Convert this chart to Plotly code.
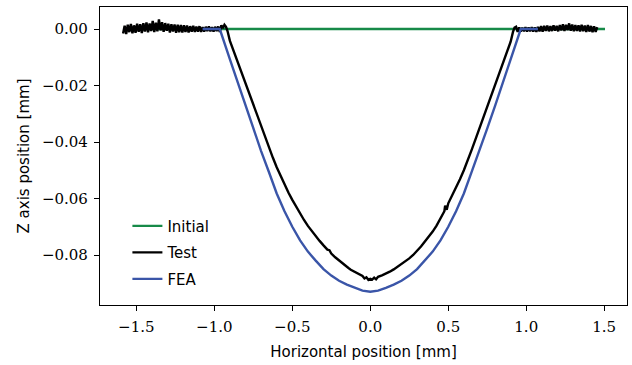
import plotly.graph_objects as go

# ---------------- data (mm) ----------------
initial_x = [-1.585, 1.505]
initial_y = [0.0, 0.0]

# Test profile: left flat (noisy) part
test_left_x = [-1.585, -1.575, -1.565, -1.555, -1.545, -1.535, -1.525, -1.515, -1.505, -1.495,
               -1.485, -1.475, -1.465, -1.455, -1.445, -1.435, -1.425, -1.415, -1.405, -1.395,
               -1.385, -1.375, -1.365, -1.355, -1.345, -1.335, -1.325, -1.315, -1.305, -1.295,
               -1.285, -1.275, -1.265, -1.255, -1.245, -1.235, -1.225, -1.215, -1.205, -1.195,
               -1.185, -1.175, -1.165, -1.155, -1.145, -1.135, -1.125, -1.115, -1.105, -1.095,
               -1.085, -1.075, -1.065, -1.055, -1.045, -1.035, -1.025, -1.015, -1.005, -0.995,
               -0.985, -0.975, -0.965, -0.955, -0.945, -0.935]
test_left_y = [-0.0016, 0.0012, -0.0018, 0.0015, -0.0011, 0.0018, -0.0015, 0.0013, -0.0013, 0.0019,
               -0.0010, 0.0017, -0.0014, 0.0021, -0.0009, 0.0023, -0.0012, 0.0020, -0.0007, 0.0029,
               -0.0011, 0.0022, -0.0008, 0.0034, -0.0005, 0.0024, -0.0010, 0.0021, -0.0006, 0.0019,
               -0.0012, 0.0017, -0.0009, 0.0016, -0.0013, 0.0015, -0.0011, 0.0014, -0.0012, 0.0013,
               -0.0010, 0.0012, -0.0012, 0.0010, -0.0009, 0.0011, -0.0010, 0.0009, -0.0009, 0.0010,
               -0.0010, 0.0007, -0.0009, 0.0008, -0.0007, 0.0009, -0.0008, 0.0007, -0.0009, 0.0008,
               -0.0007, 0.0009, -0.0010, 0.0013, 0.0003, 0.0015]

# Test profile: indentation
test_mid_x = [-0.925, -0.915, -0.900, -0.875, -0.850, -0.825, -0.800, -0.775, -0.750, -0.725,
              -0.700, -0.675, -0.650, -0.625, -0.600, -0.575, -0.550, -0.525, -0.500, -0.475,
              -0.450, -0.425, -0.400, -0.375, -0.350, -0.325, -0.300, -0.275, -0.262, -0.250,
              -0.225, -0.200, -0.175, -0.150, -0.140, -0.125, -0.100, -0.075, -0.050, -0.037,
              -0.025, -0.012, 0.000, 0.012, 0.025, 0.037, 0.050, 0.075, 0.100, 0.125,
              0.150, 0.175, 0.200, 0.225, 0.250, 0.275, 0.300, 0.325, 0.350, 0.375,
              0.400, 0.425, 0.450, 0.475, 0.480, 0.490, 0.500, 0.525, 0.550, 0.575,
              0.600, 0.625, 0.650, 0.675, 0.700, 0.725, 0.750, 0.775, 0.800, 0.825,
              0.850, 0.875, 0.900, 0.915, 0.925]
test_mid_y = [0.0008, -0.0008, -0.0042, -0.0080, -0.0118, -0.0157, -0.0196, -0.0234, -0.0272, -0.0310,
              -0.0347, -0.0384, -0.0420, -0.0455, -0.0489, -0.0521, -0.0551, -0.0579, -0.0605, -0.0630,
              -0.0655, -0.0676, -0.0697, -0.0716, -0.0733, -0.0750, -0.0766, -0.0781, -0.0783, -0.0795,
              -0.0808, -0.0820, -0.0832, -0.0841, -0.0846, -0.0852, -0.0860, -0.0867, -0.0874, -0.0883,
              -0.0879, -0.0888, -0.0884, -0.0887, -0.0880, -0.0886, -0.0877, -0.0872, -0.0866, -0.0859,
              -0.0851, -0.0842, -0.0832, -0.0822, -0.0812, -0.0800, -0.0786, -0.0770, -0.0752, -0.0735,
              -0.0717, -0.0696, -0.0672, -0.0645, -0.0625, -0.0640, -0.0617, -0.0590, -0.0562, -0.0532,
              -0.0500, -0.0466, -0.0428, -0.0390, -0.0352, -0.0314, -0.0276, -0.0238, -0.0200, -0.0161,
              -0.0122, -0.0083, -0.0045, -0.0010, 0.0005]

# Test profile: right flat (noisy) part
test_right_x = [0.935, 0.945, 0.955, 0.965, 0.975, 0.985, 0.995, 1.005, 1.015, 1.025,
                1.035, 1.045, 1.055, 1.065, 1.075, 1.085, 1.095, 1.105, 1.115, 1.125,
                1.135, 1.145, 1.155, 1.165, 1.175, 1.185, 1.195, 1.205, 1.215, 1.225,
                1.235, 1.245, 1.255, 1.265, 1.275, 1.285, 1.295, 1.305, 1.315, 1.325,
                1.335, 1.345, 1.355, 1.365, 1.375, 1.385, 1.395, 1.405, 1.415, 1.425,
                1.435, 1.445, 1.455]
test_right_y = [0.0008, -0.0010, 0.0006, -0.0009, 0.0005, -0.0008, 0.0007, -0.0009, 0.0006, -0.0008,
                0.0007, -0.0009, 0.0006, -0.0010, 0.0008, -0.0008, 0.0010, -0.0009, 0.0011, -0.0007,
                0.0012, -0.0008, 0.0010, -0.0007, 0.0013, -0.0006, 0.0011, -0.0008, 0.0014, -0.0005,
                0.0017, -0.0007, 0.0015, -0.0004, 0.0020, -0.0006, 0.0016, -0.0008, 0.0014, -0.0007,
                0.0013, -0.0009, 0.0015, -0.0008, 0.0012, -0.0010, 0.0014, -0.0009, 0.0011, -0.0011,
                0.0010, -0.0010, 0.0007]

test_x = test_left_x + test_mid_x + test_right_x
test_y = test_left_y + test_mid_y + test_right_y

# FEA profile
fea_x = [-1.075, -0.965, -0.90, -0.85, -0.80, -0.75, -0.70, -0.65, -0.60, -0.55,
         -0.50, -0.45, -0.40, -0.35, -0.30, -0.25, -0.20, -0.15, -0.10, -0.05,
         0.00, 0.05, 0.10, 0.15, 0.20, 0.25, 0.30, 0.35, 0.40, 0.45,
         0.50, 0.55, 0.60, 0.65, 0.70, 0.75, 0.80, 0.85, 0.90, 0.965, 1.075]
fea_y = [0.0, 0.0, -0.0107, -0.0190, -0.0272, -0.0352, -0.0432, -0.0506, -0.0582, -0.0645,
         -0.0700, -0.0748, -0.0788, -0.0820, -0.0850, -0.0873, -0.0891, -0.0905, -0.0916, -0.0926,
         -0.0930, -0.0926, -0.0916, -0.0905, -0.0891, -0.0873, -0.0850, -0.0820, -0.0788, -0.0748,
         -0.0700, -0.0645, -0.0582, -0.0506, -0.0432, -0.0352, -0.0272, -0.0190, -0.0107, 0.0, 0.0]

x_ticks = [-1.5, -1.0, -0.5, 0.0, 0.5, 1.0, 1.5]
y_ticks = [0.0, -0.02, -0.04, -0.06, -0.08]

# ---------------- figure ----------------
GREEN = "#178a48"
BLUE = "#3a55a8"
LW = 2.4

fig = go.Figure()
fig.add_trace(go.Scatter(x=initial_x, y=initial_y, mode="lines", name="Initial",
                         line=dict(color=GREEN, width=LW), legendgroup="a"))
fig.add_trace(go.Scatter(x=test_x, y=test_y, mode="lines", name="Test",
                         line=dict(color="black", width=LW), legendgroup="b"))
fig.add_trace(go.Scatter(x=fea_x, y=fea_y, mode="lines", name="FEA",
                         line=dict(color=BLUE, width=LW), legendgroup="c"))

tickfont = dict(family="'DejaVu Serif', 'Liberation Serif', serif", size=15, color="black")
axis_common = dict(showgrid=False, zeroline=False, showline=True, mirror=True,
                   linecolor="black", linewidth=1.2, ticks="outside", ticklen=5,
                   tickwidth=1.2, tickcolor="black", tickfont=tickfont)

fig.update_xaxes(range=[-1.733, 1.646], tickvals=x_ticks, tickformat=".1f",
                 title=dict(text="Horizontal position [mm]",
                            font=dict(family="DejaVu Sans", size=15, color="black"),
                            standoff=11),
                 ticklabelstandoff=3, **axis_common)
fig.update_yaxes(range=[-0.0977, 0.0078], tickvals=y_ticks, tickformat=".2f",
                 title=dict(text="Z axis position [mm]",
                            font=dict(family="DejaVu Sans", size=15, color="black"),
                            standoff=8),
                 ticklabelstandoff=3, **axis_common)

fig.update_layout(
    width=632, height=365,
    margin=dict(l=100, r=5, t=7, b=60),
    paper_bgcolor="white", plot_bgcolor="white",
    showlegend=True,
    legend=dict(x=0.052, y=0.32, xanchor="left", yanchor="top",
                font=dict(family="DejaVu Sans", size=15, color="black"),
                bgcolor="rgba(255,255,255,0)", borderwidth=0,
                traceorder="grouped", tracegroupgap=4),
)

fig.write_html("out.html")
